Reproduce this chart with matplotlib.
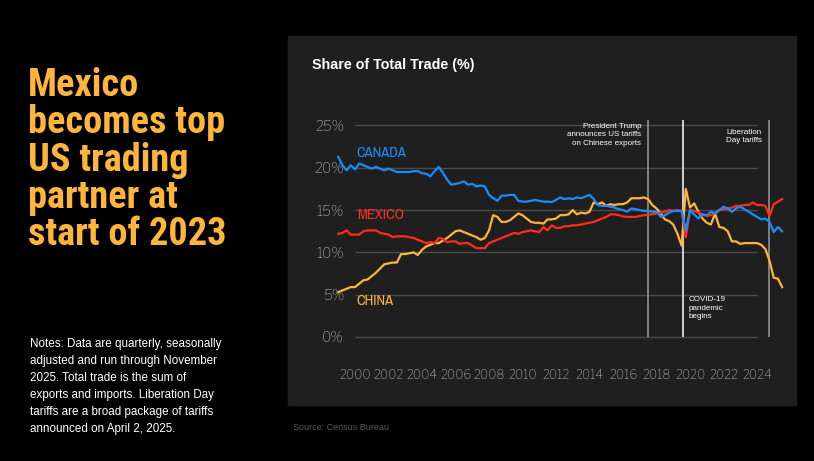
import matplotlib
matplotlib.use("Agg")
import matplotlib.pyplot as plt
import numpy as np
from matplotlib.patches import Rectangle

# share of total US trade (%), quarterly from 1999Q1
canada = [
    21.3, 20.3, 19.7, 20.3,  19.8, 20.5, 20.3, 20.1,  19.9, 20.1, 19.9, 19.7,
    19.9, 19.7, 19.5, 19.5,  19.5, 19.5, 19.6, 19.6,  19.35, 19.3, 19.0, 19.6,
    20.1, 19.4, 18.6, 18.0,  18.1, 18.2, 18.4, 18.0,  18.1, 17.8, 17.9, 17.8,
    16.8, 16.4, 16.1, 16.7,  16.7, 16.8, 16.8, 16.1,  16.0, 16.0, 16.1, 16.2,
    16.1, 16.0, 16.0, 15.95, 16.2, 16.5, 16.3, 16.4,  16.3, 16.5, 16.4, 16.6,
    16.8, 16.3, 15.6, 15.5,  15.5, 15.4, 15.3, 15.1,  15.0, 14.8, 15.2, 15.1,
    15.0, 14.9, 14.9, 14.8,  14.8, 14.2, 14.4, 14.7,  14.9, 14.9, 14.9, 12.6,
    15.0, 14.5, 14.0, 14.5,  14.4, 14.8, 14.6, 15.0,  15.4, 15.2, 14.8, 15.2,
    15.4, 15.1, 14.8, 14.5,  14.2, 13.9, 14.0, 13.6,  12.4, 13.0, 12.5,
]
mexico = [
    12.2, 12.3, 12.6, 12.1,  12.1, 12.1, 12.5, 12.6,  12.6, 12.6, 12.3, 12.2,
    12.1, 11.8, 11.9, 11.9,  11.9, 11.8, 11.7, 11.5,  11.3, 11.1, 11.2, 11.1,
    11.7, 11.6, 11.2, 11.3,  11.3, 11.0, 11.1, 11.1,  10.8, 10.5, 10.5, 10.5,
    11.1, 11.3, 11.5, 11.7,  11.9, 12.1, 12.3, 12.2,  12.4, 12.5, 12.6, 12.5,
    12.4, 13.0, 12.6, 13.2,  12.9, 12.9, 13.1, 13.1,  13.2, 13.2, 13.3, 13.4,
    13.5, 13.6, 13.8, 14.0,  14.2, 14.5, 14.5, 14.4,  14.25, 14.2, 14.2, 14.2,
    14.3, 14.4, 14.45, 14.5, 14.6, 14.7, 14.8, 15.0,  14.9, 15.0, 14.9, 11.8,
    15.0, 14.9, 14.7, 14.5,  14.3, 14.4, 14.7, 15.0,  15.1, 15.2, 15.3, 15.5,
    15.5, 15.6, 15.6, 15.9,  15.6, 15.6, 15.5, 14.3,  15.7, 16.0, 16.3,
]
china = [
    5.3, 5.5, 5.7, 5.9,  5.9, 6.3, 6.7, 6.8,  7.2, 7.6, 8.1, 8.6,
    8.7, 8.8, 8.8, 9.8,  9.8, 9.9, 10.0, 9.7,  10.3, 10.7, 10.9, 11.1,
    11.1, 11.4, 11.7, 12.1,  12.5, 12.6, 12.4, 12.2,  12.0, 11.8, 11.5, 11.7,
    12.6, 14.4, 14.2, 13.6,  13.6, 13.8, 14.2, 14.6,  14.4, 14.0, 13.6, 13.5,
    13.5, 13.4, 13.9, 13.9,  14.0, 14.4, 14.4, 14.5,  15.0, 14.5, 14.7, 14.6,
    14.8, 15.9, 15.7, 15.9,  15.5, 15.7, 15.6, 15.7,  15.7, 15.9, 16.4, 16.4,
    16.4, 16.5, 16.3, 15.6,  15.2, 14.6, 13.9, 13.7,  13.3, 12.2, 10.8, 17.5,
    15.3, 15.8, 14.8, 14.0,  13.5, 13.3, 14.6, 13.0,  12.9, 12.5, 11.3, 11.3,
    11.0, 11.1, 11.1, 11.1,  11.1, 10.9, 10.4, 9.0,  7.0, 6.9, 5.9,
]
quarters = 1999.0 + 0.25 * np.arange(len(canada))

year_ticks = list(range(2000, 2025, 2))
pct_ticks = [0, 5, 10, 15, 20, 25]

event_x = [2017.5, 2019.56, 2024.7]
event_text = ["President Trump\nannounces US tariffs\non Chinese exports",
              "COVID-19\npandemic\nbegins",
              "Liberation\nDay tariffs"]

headline = "Mexico\nbecomes top\nUS trading\npartner at\nstart of 2023"
notes = ("Notes: Data are quarterly, seasonally\nadjusted and run through November\n"
         "2025. Total trade is the sum of\nexports and imports. Liberation Day\n"
         "tariffs are a broad package of tariffs\nannounced on April 2, 2025.")

C_CAN, C_MEX, C_CHN = "#1a8cff", "#ff2b1c", "#ffb53a"
NARROW = ["Archivo Narrow", "DejaVu Sans"]
COND = ["Roboto Condensed", "DejaVu Sans"]
FRANK = ["Libre Franklin", "DejaVu Sans"]
SANS = ["Liberation Sans", "DejaVu Sans"]

W, H = 814, 461
fig = plt.figure(figsize=(W / 100, H / 100), dpi=100, facecolor="black")

# dark chart panel
fig.add_artist(Rectangle((288 / W, 1 - 405 / H), 508 / W, 369 / H,
                         transform=fig.transFigure, color="#1f1f1f", zorder=0))

fig.text(28 / W, 1 - 67 / H, headline, color="#ffb53a", fontsize=27.5, fontweight="bold",
         family=COND, va="top", ha="left", linespacing=1.01)
fig.text(30 / W, 1 - 338 / H, notes, color="white", fontsize=8.4, family=SANS,
         va="top", ha="left", linespacing=1.55)
fig.text(312 / W, 1 - 65 / H, "Share of Total Trade (%)", color="white", fontsize=10.3,
         fontweight="bold", family=SANS, va="center", ha="left")
fig.text(293 / W, 1 - 427 / H, "Source: Census Bureau", color="#5a5a5a", fontsize=6.5,
         family=SANS, va="center", ha="left")

ax = fig.add_axes([330 / W, 1 - 345 / H, 462 / W, 230 / H])
ax.set_facecolor("none")
ax.set_xlim(1998.507, 2026.09)
ax.set_ylim(-0.946, 26.24)
for s in ax.spines.values():
    s.set_visible(False)

ax.hlines(pct_ticks, 2000, 2024, color="#4a4a4a", lw=1, zorder=1)
ax.set_yticks(pct_ticks)
ax.set_yticklabels([f"{v}%" for v in pct_ticks])
ax.set_xticks(year_ticks)
ax.set_xticklabels([str(y) for y in year_ticks])
ax.tick_params(length=0, colors="#a8a8a8")
ax.tick_params(axis="y", pad=-10, labelsize=10)
ax.tick_params(axis="x", pad=17, labelsize=8.8)
for lab in ax.get_xticklabels() + ax.get_yticklabels():
    lab.set_family(FRANK)
    lab.set_fontweight("light")

for x, c in zip(event_x, ["#9a9a9a", "white", "#9a9a9a"]):
    ax.vlines(x, 0, 25.6, color=c, lw=1.1, zorder=2)
ax.annotate(event_text[0], (event_x[0], 25.3), xytext=(-5, 0), textcoords="offset points",
            ha="right", va="top", color="white", fontsize=5.8, family=SANS, linespacing=1.3)
ax.annotate(event_text[1], (event_x[1], 4.8), xytext=(4, 0), textcoords="offset points",
            ha="left", va="top", color="white", fontsize=5.8, family=SANS, linespacing=1.3)
ax.annotate(event_text[2], (event_x[2], 24.6), xytext=(-5, 0), textcoords="offset points",
            ha="right", va="top", color="white", fontsize=5.8, family=SANS, linespacing=1.3)

ax.plot(quarters, china, color=C_CHN, lw=1.6, clip_on=False, zorder=3)
ax.plot(quarters, mexico, color=C_MEX, lw=1.6, clip_on=False, zorder=4)
ax.plot(quarters, canada, color=C_CAN, lw=1.6, clip_on=False, zorder=5)

ax.text(2000.1, 21.8, "CANADA", color=C_CAN, fontsize=10.5, family=NARROW, va="center")
ax.text(2000.1, 14.4, "MEXICO", color=C_MEX, fontsize=10.5, family=NARROW, va="center")
ax.text(2000.1, 4.25, "CHINA", color=C_CHN, fontsize=10.5, family=NARROW, va="center")

fig.savefig("out.png", dpi=100, facecolor="black")
